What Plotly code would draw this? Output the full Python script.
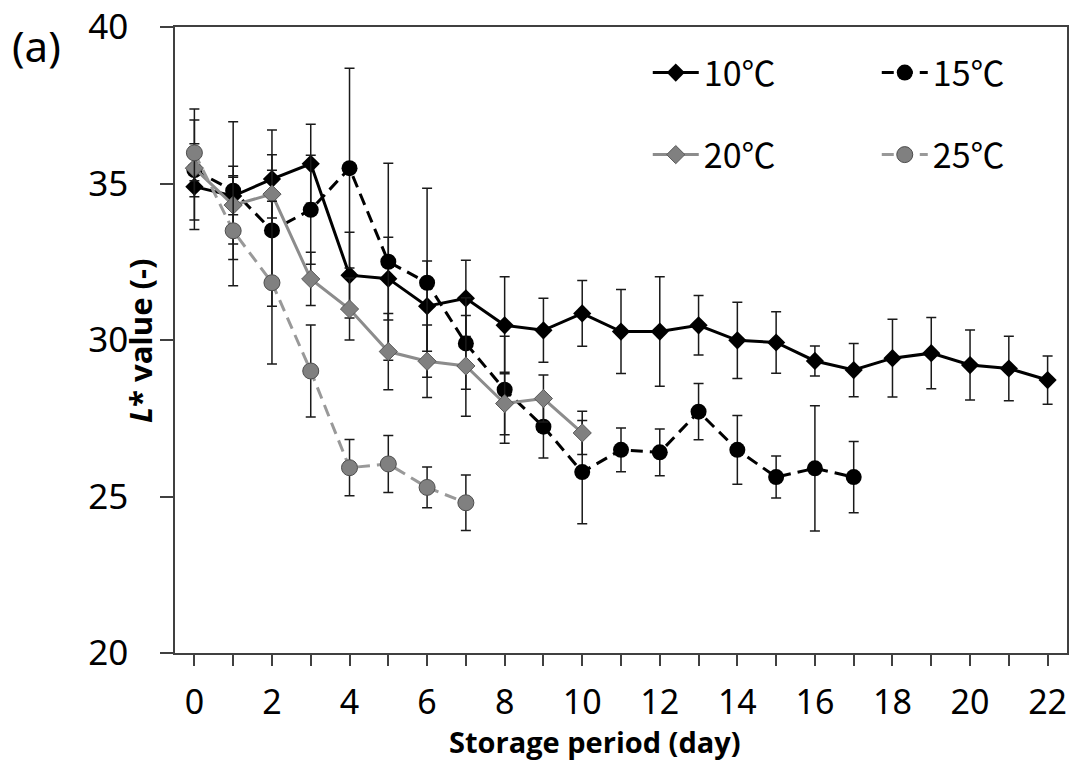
import plotly.graph_objects as go

# ---- data ----
days_10 = list(range(0, 23))
l_10 = [34.90, 34.60, 35.14, 35.63, 32.07, 31.96, 31.08, 31.33, 30.47, 30.31, 30.85, 30.27,
        30.27, 30.47, 29.99, 29.92, 29.33, 29.04, 29.42, 29.58, 29.20, 29.09, 28.72]
err_10 = [1.37, 0.60, 1.57, 1.26, 1.37, 1.32, 1.44, 1.22, 1.55, 1.02, 1.05, 1.34,
          1.75, 0.95, 1.22, 0.98, 0.48, 0.85, 1.24, 1.14, 1.12, 1.03, 0.77]

days_15 = list(range(0, 18))
l_15 = [35.43, 34.77, 33.50, 34.16, 35.49, 32.50, 31.83, 29.89, 28.41, 27.23, 25.78, 26.49,
        26.41, 27.71, 26.49, 25.62, 25.90, 25.62]
err_15 = [1.60, 2.20, 2.42, 1.74, 3.19, 3.15, 3.02, 1.46, 1.71, 1.00, 1.65, 0.70,
          0.75, 0.90, 1.10, 0.67, 2.00, 1.14]

days_20 = list(range(0, 11))
l_20 = [35.49, 34.31, 34.66, 31.95, 30.99, 29.63, 29.32, 29.17, 27.97, 28.13, 27.03]
err_20 = [0.40, 1.24, 0.76, 0.85, 0.99, 1.22, 1.16, 1.61, 1.00, 0.75, 0.69]

days_25 = list(range(0, 8))
l_25 = [35.98, 33.49, 31.83, 29.01, 25.92, 26.04, 25.29, 24.80]
err_25 = [1.40, 1.76, 2.60, 1.47, 0.90, 0.91, 0.65, 0.89]

names = ["10℃", "15℃", "20℃", "25℃"]
x_ticks = list(range(0, 23, 2))
y_ticks = [20, 25, 30, 35, 40]

# ---- figure ----
fig = go.Figure()

err_style = dict(type="data", color="#1a1a1a", thickness=1.5, width=5)

fig.add_trace(go.Scatter(
    x=days_10, y=l_10, mode="lines+markers", name=names[0], legend="legend",
    line=dict(color="black", width=3),
    marker=dict(symbol="diamond", size=14, color="black"),
    error_y=dict(array=err_10, **err_style)))

fig.add_trace(go.Scatter(
    x=days_15, y=l_15, mode="lines+markers", name=names[1], legend="legend",
    line=dict(color="black", width=3, dash="12px,7px"),
    marker=dict(symbol="circle", size=16, color="black"),
    error_y=dict(array=err_15, **err_style)))

fig.add_trace(go.Scatter(
    x=days_20, y=l_20, mode="lines+markers", name=names[2], legend="legend2",
    line=dict(color="#8c8c8c", width=3),
    marker=dict(symbol="diamond", size=14, color="#808080", line=dict(color="#595959", width=1)),
    error_y=dict(array=err_20, **err_style)))

fig.add_trace(go.Scatter(
    x=days_25, y=l_25, mode="lines+markers", name=names[3], legend="legend2",
    line=dict(color="#999999", width=3, dash="12px,7px"),
    marker=dict(symbol="circle", size=16, color="#808080", line=dict(color="#4d4d4d", width=1)),
    error_y=dict(array=err_25, **err_style)))

legend_common = dict(
    orientation="h", xanchor="left", yanchor="middle",
    font=dict(family="Noto Sans CJK KR", size=34, color="black"),
    bgcolor="rgba(0,0,0,0)", entrywidth=168, itemwidth=46,
)

fig.update_layout(
    width=1073, height=762,
    margin=dict(l=175, r=6, t=27, b=109, autoexpand=False),
    paper_bgcolor="white", plot_bgcolor="white",
    showlegend=True,
    legend=dict(x=0.530, y=0.9265, **legend_common),
    legend2=dict(x=0.530, y=0.7955, **legend_common),
    font=dict(family="Noto Sans", color="black"),
)

fig.update_xaxes(
    range=[-0.5, 22.5], tickmode="array", tickvals=x_ticks, automargin=False,
    ticks="outside", ticklen=11, tickwidth=1.5, tickcolor="#404040",
    minor=dict(dtick=1, tick0=0, ticks="outside", ticklen=11, tickwidth=1.5, tickcolor="#404040"),
    showline=True, linecolor="#404040", linewidth=1.5, mirror=True,
    showgrid=False, zeroline=False,
    tickfont=dict(family="Noto Sans", size=34, color="black"),
    ticklabelstandoff=7,
)

fig.update_yaxes(
    range=[20, 40], tickmode="array", tickvals=y_ticks, automargin=False,
    ticks="outside", ticklen=13, tickwidth=1.5, tickcolor="#404040",
    showline=True, linecolor="#404040", linewidth=1.5, mirror=True,
    showgrid=False, zeroline=False,
    tickfont=dict(family="Noto Sans", size=35, color="black"),
    ticklabelstandoff=25,
)

fig.add_annotation(
    text="Storage period (day)", xref="paper", yref="paper",
    x=(595 - 175) / 892, y=-(741 - 653) / 626, xanchor="center", yanchor="middle",
    showarrow=False, font=dict(family="Open Sans", size=29, color="black", weight="bold"))

fig.add_annotation(
    text="<i>L</i>* value (-)", xref="paper", yref="paper",
    x=(140 - 175) / 892, y=(653 - 341) / 626, xanchor="center", yanchor="middle",
    textangle=-90, showarrow=False,
    font=dict(family="Open Sans", size=31, color="black", weight="bold"))

fig.add_annotation(
    text="(a)", xref="paper", yref="paper",
    x=(10 - 175) / 892, y=(653 - 45) / 626, xanchor="left", yanchor="middle",
    showarrow=False, font=dict(family="Noto Sans", size=42, color="black"))

fig.write_html(
    "out.html",
    config={"displayModeBar": False},
    post_script="document.body.style.margin='0';document.body.style.overflow='hidden';",
)
